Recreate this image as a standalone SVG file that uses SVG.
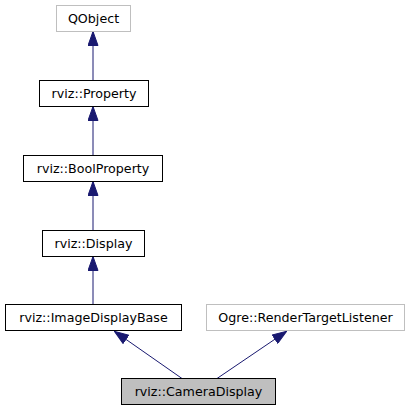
<svg xmlns="http://www.w3.org/2000/svg" width="410" height="411" viewBox="0 0 410 411">
<defs>
<marker id="ah" viewBox="0 0 15 11" refX="15" refY="5.5" markerWidth="15" markerHeight="11" markerUnits="userSpaceOnUse" orient="auto">
<path d="M0.5,0.5 L14.5,5.5 L0.5,10.5 Z" fill="#191970" stroke="#191970"/>
</marker>
</defs>
<style>
.box{fill:#fff;stroke:#000;stroke-width:1}
.ext{fill:#fff;stroke:#bfbfbf;stroke-width:1}
.cur{fill:#bfbfbf;stroke:#000;stroke-width:1}
text{font-family:"DejaVu Sans",sans-serif;font-size:12.67px;text-anchor:middle;fill:#000}
.edge{stroke:#191970;stroke-width:1;fill:none;marker-end:url(#ah)}
</style>
<rect width="410" height="411" fill="#fff"/>
<g id="connectors">
<line class="edge" x1="93" y1="80" x2="93" y2="31"/>
<line class="edge" x1="93" y1="155" x2="93" y2="106"/>
<line class="edge" x1="93" y1="230" x2="93" y2="181"/>
<line class="edge" x1="93" y1="304" x2="93" y2="256"/>
<line class="edge" x1="182" y1="378.5" x2="114" y2="331"/>
<line class="edge" x1="217" y1="378.5" x2="287" y2="331"/>
</g>
<g id="QObject"><rect class="ext" x="56.5" y="5.5" width="74" height="26"/><text x="93.5" y="22.5">QObject</text></g>
<g id="Property"><rect class="box" x="39.5" y="80.5" width="109" height="26"/><text x="94" y="97.5">rviz::Property</text></g>
<g id="BoolProperty"><rect class="box" x="23.5" y="155.5" width="139" height="26"/><text x="93" y="172.5">rviz::BoolProperty</text></g>
<g id="Display"><rect class="box" x="42.5" y="230.5" width="102" height="26"/><text x="93.5" y="247.5">rviz::Display</text></g>
<g id="ImageDisplayBase"><rect class="box" x="5.5" y="304.5" width="176" height="26"/><text x="93.5" y="321.5">rviz::ImageDisplayBase</text></g>
<g id="RenderTargetListener"><rect class="ext" x="206.5" y="304.5" width="198" height="26"/><text x="305.5" y="321.5">Ogre::RenderTargetListener</text></g>
<g id="CameraDisplay"><rect class="cur" x="121.5" y="378.5" width="154" height="26"/><text x="198.5" y="395.5">rviz::CameraDisplay</text></g>
</svg>
